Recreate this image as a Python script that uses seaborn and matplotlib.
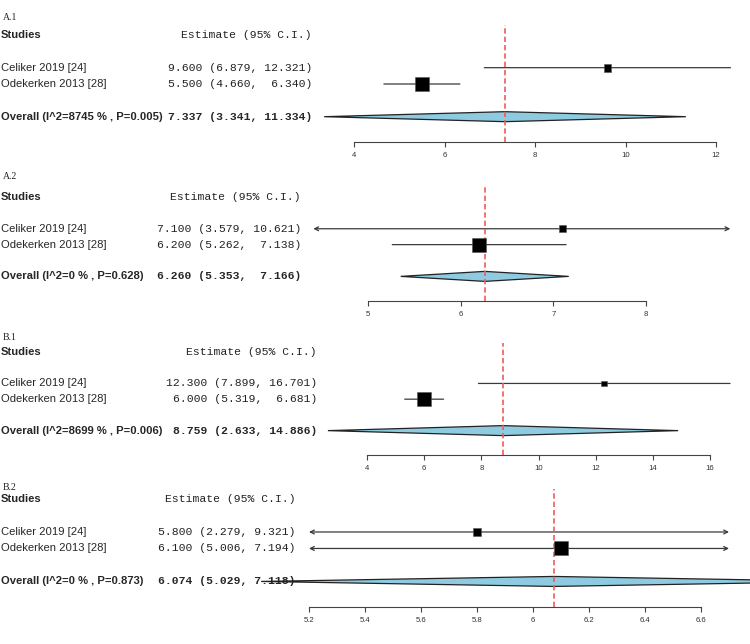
import numpy as np
import matplotlib.pyplot as plt
import matplotlib.transforms as mtransforms
from matplotlib.patches import Polygon
import seaborn as sns

# Study names (same in every panel)
studies = ["Celiker 2019 [24]", "Odekerken 2013 [28]"]

# A.1
a1_est = [9.600, 5.500]
a1_lo = [6.879, 4.660]
a1_hi = [12.321, 6.340]
a1_overall = [7.337, 3.341, 11.334]
a1_het = ["8745", "0.005"]
a1_ticks = [4, 6, 8, 10, 12]

# A.2
a2_est = [7.100, 6.200]
a2_lo = [3.579, 5.262]
a2_hi = [10.621, 7.138]
a2_overall = [6.260, 5.353, 7.166]
a2_het = ["0", "0.628"]
a2_ticks = [5, 6, 7, 8]

# B.1
b1_est = [12.300, 6.000]
b1_lo = [7.899, 5.319]
b1_hi = [16.701, 6.681]
b1_overall = [8.759, 2.633, 14.886]
b1_het = ["8699", "0.006"]
b1_ticks = [4, 6, 8, 10, 12, 14, 16]

# B.2
b2_est = [5.800, 6.100]
b2_lo = [2.279, 5.006]
b2_hi = [9.321, 7.194]
b2_overall = [6.074, 5.029, 7.118]
b2_het = ["0", "0.873"]
b2_ticks = [5.2, 5.4, 5.6, 5.8, 6.0, 6.2, 6.4, 6.6]

panels = [
    ("A.1", a1_est, a1_lo, a1_hi, a1_overall, a1_het, a1_ticks),
    ("A.2", a2_est, a2_lo, a2_hi, a2_overall, a2_het, a2_ticks),
    ("B.1", b1_est, b1_lo, b1_hi, b1_overall, b1_het, b1_ticks),
    ("B.2", b2_est, b2_lo, b2_hi, b2_overall, b2_het, b2_ticks),
]

# layout of each panel in pixels: label y, header y, axis y, first/last tick x, clip range, text right edge
layout = [
    dict(label_y=18, header_y=35, axis_y=142, tick_px=(354, 716), xlim=(3.3, 12.4), right=312),
    dict(label_y=176, header_y=197, axis_y=301, tick_px=(368, 646), xlim=(4.41, 8.91), right=301),
    dict(label_y=337, header_y=352, axis_y=455, tick_px=(367, 710), xlim=(2.6, 16.75), right=317),
    dict(label_y=487, header_y=499, axis_y=607, tick_px=(309, 701), xlim=(5.2, 6.70), right=296),
]

sns.set_theme(style="white")
plt.rcParams['font.family'] = ['Liberation Sans', 'DejaVu Sans']

W, H = 750, 644
fig = plt.figure(figsize=(W / 100, H / 100), dpi=100)

ci_color = "#3a3a3a"
red = "#f25a5a"
diamond_fc = "#8ecae0"
mono = "Liberation Mono"

for (tag, est, lo, hi, overall, het, ticks), lay in zip(panels, layout):
    est, lo, hi = np.array(est), np.array(lo), np.array(hi)
    t0, t1 = lay["tick_px"]
    scale = (t1 - t0) / (ticks[-1] - ticks[0])
    left = t0 + (lay["xlim"][0] - ticks[0]) * scale
    right = t0 + (lay["xlim"][1] - ticks[0]) * scale
    unit = (lay["axis_y"] - lay["header_y"]) / 6.55
    top = lay["header_y"] - 0.6 * unit

    ax = fig.add_axes([left / W, 1 - lay["axis_y"] / H, (right - left) / W, (lay["axis_y"] - top) / H])
    ax.set_xlim(*lay["xlim"])
    ax.set_ylim(6.55, -0.6)
    ax.set_facecolor("none")

    rows = [2, 3]
    # CI lines (with arrows where clipped)
    for y, l, h in zip(rows, lo, hi):
        a = max(l, lay["xlim"][0])
        b = min(h, lay["xlim"][1])
        cl, cr = l < lay["xlim"][0], h > lay["xlim"][1]
        style = "<->" if (cl and cr) else ("<-" if cl else ("->" if cr else "-"))
        ax.annotate("", xy=(b, y), xytext=(a, y),
                    arrowprops=dict(arrowstyle=style, lw=0.9, color=ci_color,
                                    shrinkA=0, shrinkB=0, mutation_scale=7), zorder=2)

    # box sizes from inverse-variance weights
    se = (hi - lo) / (2 * 1.96)
    w = 1 / se ** 2
    side_px = 14 * (w / w.max()) ** 0.25
    sns.scatterplot(x=est, y=rows, marker="s", s=(side_px * 0.72) ** 2, color="black",
                    edgecolor="#555555", linewidth=0.4, ax=ax, zorder=5, legend=False)

    # pooled diamond
    o_est, o_lo, o_hi = overall
    hh = 5 / unit
    ax.add_patch(Polygon([[o_lo, 5], [o_est, 5 - hh], [o_hi, 5], [o_est, 5 + hh]], closed=True,
                         fc=diamond_fc, ec="#222222", lw=0.9, clip_on=False, zorder=3))
    ax.axvline(o_est, color=red, ls=(0, (3.2, 1.8)), lw=1.2, zorder=4)

    # x axis
    sns.despine(ax=ax, left=True)
    ax.spines["bottom"].set_bounds(ticks[0], ticks[-1])
    ax.spines["bottom"].set_color("#444444")
    ax.spines["bottom"].set_linewidth(0.8)
    ax.set_xticks(ticks)
    ax.set_xticklabels([f"{t:g}" for t in ticks])
    ax.set_yticks([])
    ax.tick_params(axis="x", bottom=True, direction="out", length=3.5, width=0.8,
                   color="#444444", labelsize=5.6, pad=3.5, labelcolor="#333333")

    # text columns
    tr = mtransforms.blended_transform_factory(fig.transFigure, ax.transData)
    wl = max(len(f"{v:.3f}") for v in list(lo) + [o_lo])
    wh = max(len(f"{v:.3f}") for v in list(hi) + [o_hi])
    xr = lay["right"] / W
    fig.text(3 / W, 1 - lay["label_y"] / H, tag, family="Liberation Serif", fontsize=7,
             ha="left", va="center", color="#222222")
    ax.text(1 / W, 0, "Studies", transform=tr, fontsize=8.1, fontweight="bold",
            ha="left", va="center", clip_on=False)
    ax.text(xr, 0, "Estimate (95% C.I.)", transform=tr, family=mono, fontsize=8.2,
            ha="right", va="center", clip_on=False, color="#222222")
    for y, name, e, l, h in zip(rows, studies, est, lo, hi):
        ax.text(1 / W, y, name, transform=tr, fontsize=8.1, ha="left", va="center", clip_on=False)
        ax.text(xr, y, f"{e:.3f} ({l:{wl}.3f}, {h:{wh}.3f})", transform=tr, family=mono,
                fontsize=8.2, ha="right", va="center", clip_on=False, color="#222222")
    ax.text(1 / W, 5, f"Overall (I^2={het[0]} % , P={het[1]})", transform=tr, fontsize=8.1,
            fontweight="bold", ha="left", va="center", clip_on=False)
    ax.text(xr, 5, f"{o_est:.3f} ({o_lo:{wl}.3f}, {o_hi:{wh}.3f})", transform=tr, family=mono,
            fontsize=8.2, fontweight="bold", ha="right", va="center", clip_on=False, zorder=1)

fig.savefig("out.png", dpi=100)
